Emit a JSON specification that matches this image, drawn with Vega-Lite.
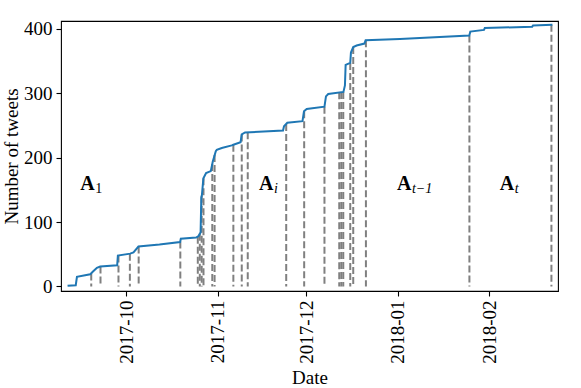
{
  "$schema": "https://vega.github.io/schema/vega-lite/v6.json",
  "width": 497,
  "height": 270,
  "autosize": "none",
  "padding": {"left": 61, "top": 21, "right": 23, "bottom": 97},
  "config": {
    "view": {"stroke": "#000000", "strokeWidth": 1.1},
    "font": "Liberation Serif",
    "axis": {
      "domain": false,
      "grid": false,
      "tickColor": "#000000",
      "tickSize": 5,
      "tickWidth": 1.1,
      "labelColor": "#000000",
      "titleColor": "#000000",
      "labelFont": "Liberation Serif",
      "titleFont": "Liberation Serif",
      "labelFontSize": 19,
      "titleFontSize": 19,
      "titleFontWeight": "normal"
    }
  },
  "datasets": {
    "tweets": [
      {"date": "2017-09-11T03:20:00", "count": 1},
      {"date": "2017-09-13T21:50:00", "count": 2},
      {"date": "2017-09-14T07:40:00", "count": 15},
      {"date": "2017-09-18T19:40:00", "count": 19},
      {"date": "2017-09-19T22:20:00", "count": 24},
      {"date": "2017-09-21T02:00:00", "count": 29},
      {"date": "2017-09-22T04:50:00", "count": 31},
      {"date": "2017-09-27T22:50:00", "count": 33},
      {"date": "2017-09-28T04:30:00", "count": 48},
      {"date": "2017-10-02T08:25:00", "count": 51},
      {"date": "2017-10-03T11:20:00", "count": 53},
      {"date": "2017-10-05T03:50:00", "count": 62},
      {"date": "2017-10-12T06:30:00", "count": 65},
      {"date": "2017-10-19T06:30:00", "count": 69},
      {"date": "2017-10-19T12:15:00", "count": 74},
      {"date": "2017-10-24T16:30:00", "count": 76},
      {"date": "2017-10-25T11:20:00", "count": 78},
      {"date": "2017-10-26T05:00:00", "count": 84},
      {"date": "2017-10-26T10:50:00", "count": 138},
      {"date": "2017-10-26T15:40:00", "count": 142},
      {"date": "2017-10-27T03:50:00", "count": 168},
      {"date": "2017-10-28T01:40:00", "count": 176},
      {"date": "2017-10-29T15:50:00", "count": 179},
      {"date": "2017-10-30T08:10:00", "count": 194},
      {"date": "2017-10-31T08:35:00", "count": 210},
      {"date": "2017-10-31T16:35:00", "count": 212},
      {"date": "2017-11-02T09:20:00", "count": 215},
      {"date": "2017-11-05T18:30:00", "count": 219},
      {"date": "2017-11-06T07:25:00", "count": 220},
      {"date": "2017-11-08T18:00:00", "count": 224},
      {"date": "2017-11-09T03:40:00", "count": 236},
      {"date": "2017-11-10T06:30:00", "count": 239},
      {"date": "2017-11-23T03:10:00", "count": 242},
      {"date": "2017-11-23T11:15:00", "count": 248.5},
      {"date": "2017-11-24T14:10:00", "count": 254},
      {"date": "2017-11-29T17:30:00", "count": 256.5},
      {"date": "2017-11-30T05:45:00", "count": 272},
      {"date": "2017-12-01T03:40:00", "count": 275.5},
      {"date": "2017-12-07T04:10:00", "count": 279},
      {"date": "2017-12-07T16:20:00", "count": 295},
      {"date": "2017-12-08T11:00:00", "count": 298.7},
      {"date": "2017-12-13T14:25:00", "count": 302},
      {"date": "2017-12-14T02:35:00", "count": 312},
      {"date": "2017-12-14T08:20:00", "count": 344},
      {"date": "2017-12-15T21:50:00", "count": 347},
      {"date": "2017-12-16T03:25:00", "count": 363},
      {"date": "2017-12-16T22:05:00", "count": 371.6},
      {"date": "2017-12-18T01:40:00", "count": 374},
      {"date": "2017-12-20T17:00:00", "count": 377},
      {"date": "2017-12-21T02:50:00", "count": 382},
      {"date": "2018-01-01T17:20:00", "count": 384},
      {"date": "2018-01-25T05:45:00", "count": 389.6},
      {"date": "2018-01-25T14:00:00", "count": 395.5},
      {"date": "2018-01-30T05:15:00", "count": 398.2},
      {"date": "2018-01-30T11:45:00", "count": 401},
      {"date": "2018-02-15T13:30:00", "count": 403.2},
      {"date": "2018-02-15T20:00:00", "count": 405.1},
      {"date": "2018-02-22T09:35:00", "count": 406.2}
    ],
    "snapshots": [
      {"date": "2017-09-19T03:50:00", "count": 20},
      {"date": "2017-09-22T07:10:00", "count": 31},
      {"date": "2017-09-28T09:20:00", "count": 48},
      {"date": "2017-10-02T06:00:00", "count": 51},
      {"date": "2017-10-05T05:30:00", "count": 62},
      {"date": "2017-10-19T08:10:00", "count": 70},
      {"date": "2017-10-25T06:20:00", "count": 77},
      {"date": "2017-10-25T22:30:00", "count": 82},
      {"date": "2017-10-26T14:00:00", "count": 141},
      {"date": "2017-10-27T04:35:00", "count": 168},
      {"date": "2017-10-30T04:05:00", "count": 190},
      {"date": "2017-10-30T22:50:00", "count": 204},
      {"date": "2017-11-06T07:25:00", "count": 220},
      {"date": "2017-11-09T03:40:00", "count": 236},
      {"date": "2017-11-11T04:20:00", "count": 239.5},
      {"date": "2017-11-24T05:05:00", "count": 252},
      {"date": "2017-11-30T07:10:00", "count": 272},
      {"date": "2017-12-07T04:10:00", "count": 279},
      {"date": "2017-12-12T04:20:00", "count": 301.5},
      {"date": "2017-12-12T20:40:00", "count": 301.7},
      {"date": "2017-12-13T13:00:00", "count": 302},
      {"date": "2017-12-15T21:50:00", "count": 347},
      {"date": "2017-12-16T22:05:00", "count": 371.6},
      {"date": "2017-12-21T05:15:00", "count": 382},
      {"date": "2018-01-25T06:40:00", "count": 389.6},
      {"date": "2018-02-22T01:30:00", "count": 406}
    ],
    "labels": [
      {"date": "2017-09-15T10:20:00", "count": 150, "main": "A", "sub": "1"},
      {"date": "2017-11-15T00:00:00", "count": 150, "main": "A", "sub": "i"},
      {"date": "2017-12-31T17:00:00", "count": 150, "main": "A", "sub": "t−1"},
      {"date": "2018-02-04T14:00:00", "count": 150, "main": "A", "sub": "t"}
    ]
  },
  "encoding": {
    "x": {
      "field": "date",
      "type": "temporal",
      "scale": {
        "domain": [
          {"year": 2017, "month": 9, "date": 8, "hours": 22},
          {"year": 2018, "month": 2, "date": 24, "hours": 7}
        ]
      },
      "axis": {
        "title": "Date",
        "format": "%Y-%m",
        "labelAngle": 270,
        "labelFlush": false,
        "labelPadding": 4,
        "titlePadding": 5,
        "tickCount": {"interval": "month", "step": 1}
      }
    },
    "y": {
      "field": "count",
      "type": "quantitative",
      "scale": {"domain": [-7, 412], "nice": false, "zero": false},
      "axis": {
        "title": "Number of tweets",
        "values": [0, 100, 200, 300, 400],
        "labelPadding": 4,
        "titlePadding": 2
      }
    }
  },
  "layer": [
    {
      "data": {"name": "snapshots"},
      "mark": {"type": "rule", "color": "#808080", "strokeWidth": 2, "strokeDash": [7, 3]},
      "encoding": {"y2": {"datum": 0}}
    },
    {
      "data": {"name": "tweets"},
      "mark": {"type": "line", "color": "#1f77b4", "strokeWidth": 2}
    },
    {
      "data": {"name": "labels"},
      "mark": {"type": "text", "align": "left", "baseline": "alphabetic", "fontSize": 20, "fontWeight": "bold", "color": "#000000"},
      "encoding": {"text": {"field": "main"}}
    },
    {
      "data": {"name": "labels"},
      "transform": [{"filter": "datum.sub == '1'"}],
      "mark": {"type": "text", "align": "left", "baseline": "alphabetic", "fontSize": 14, "dx": 15, "dy": 3, "color": "#000000"},
      "encoding": {"text": {"field": "sub"}}
    },
    {
      "data": {"name": "labels"},
      "transform": [{"filter": "datum.sub != '1'"}],
      "mark": {"type": "text", "align": "left", "baseline": "alphabetic", "fontSize": 14, "fontStyle": "italic", "dx": 15, "dy": 3, "color": "#000000"},
      "encoding": {"text": {"field": "sub"}}
    }
  ]
}
